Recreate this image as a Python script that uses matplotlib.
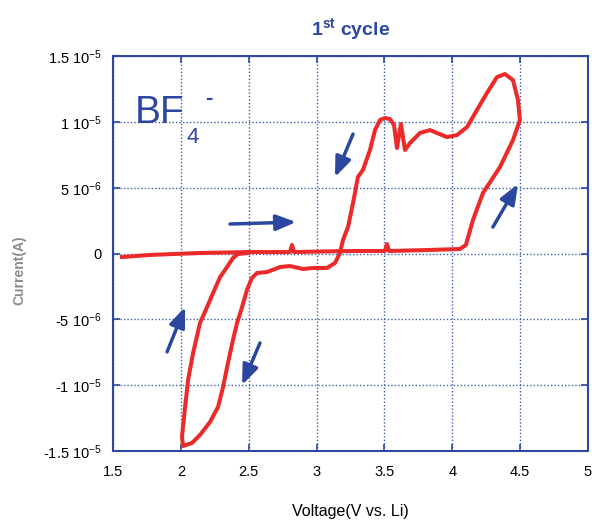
import matplotlib
matplotlib.use("Agg")
import matplotlib.pyplot as plt
import numpy as np

# ── Data ──────────────────────────────────────────────────────────────────────
# voltage in V, current in units of 1e-6 A
voltage = [1.566, 1.773, 2.141, 2.510, 2.804, 2.819, 2.834, 3.246, 3.504, 3.519,
           3.534, 3.836, 4.057, 4.101, 4.153, 4.227, 4.352, 4.448, 4.499, 4.485,
           4.448, 4.389, 4.330, 4.256, 4.182, 4.109, 4.035, 3.961, 3.888, 3.836,
           3.762, 3.689, 3.652, 3.622, 3.593, 3.571, 3.541, 3.504, 3.467, 3.431,
           3.394, 3.342, 3.305, 3.269, 3.232, 3.195, 3.173, 3.136, 3.077, 2.974,
           2.900, 2.804, 2.731, 2.635, 2.561, 2.524, 2.487, 2.451, 2.414, 2.384,
           2.347, 2.311, 2.274, 2.215, 2.141, 2.082, 2.016, 2.008, 2.031, 2.053,
           2.090, 2.141, 2.193, 2.237, 2.289, 2.340, 2.384, 2.421, 2.487]
current = [-0.27, -0.11, 0.04, 0.11, 0.11, 0.65, 0.11, 0.19, 0.19, 0.72,
           0.19, 0.27, 0.34, 0.65, 2.55, 4.60, 6.57, 8.62, 10.14, 11.66,
           13.18, 13.64, 13.41, 12.20, 10.90, 9.61, 9.00, 8.85, 9.16, 9.38,
           9.16, 8.40, 7.87, 9.84, 8.02, 9.76, 10.22, 10.30, 10.14, 9.38,
           7.87, 6.35, 5.81, 3.84, 2.01, 1.03, 0.04, -0.72, -1.10, -1.10,
           -1.18, -0.95, -1.03, -1.41, -1.48, -1.86, -2.77, -4.07, -5.28, -6.57,
           -8.32, -10.14, -11.66, -12.80, -13.79, -14.40, -14.63, -13.94, -11.66, -9.61,
           -7.56, -5.28, -4.07, -3.00, -1.79, -1.03, -0.34, -0.04, 0.04]

# scan-direction arrows: (tail V, tail I, head V, head I), I in 1e-6 A
arrow_tail_v = [2.362, 4.300, 3.269, 2.583, 1.898]
arrow_tail_i = [2.24, 2.01, 9.08, -6.80, -7.48]
arrow_head_v = [2.849, 4.485, 3.136, 2.451, 2.031]
arrow_head_i = [2.39, 5.28, 5.81, -9.99, -4.07]

x_ticks = [1.5, 2, 2.5, 3, 3.5, 4, 4.5, 5]
x_labels = ["1.5", "2", "2.5", "3", "3.5", "4", "4.5", "5"]
y_ticks = [15e-6, 10e-6, 5e-6, 0, -5e-6, -10e-6, -15e-6]
y_labels = ["1.5 10$^{-5}$", "1 10$^{-5}$", "5 10$^{-6}$", "0",
            "-5 10$^{-6}$", "-1 10$^{-5}$", "-1.5 10$^{-5}$"]

# ── Style ─────────────────────────────────────────────────────────────────────
plt.rcParams["font.family"] = ["Liberation Sans", "DejaVu Sans"]
plt.rcParams["mathtext.fontset"] = "custom"
plt.rcParams["mathtext.rm"] = "Liberation Sans"
plt.rcParams["mathtext.it"] = "Liberation Sans:italic"
plt.rcParams["mathtext.bf"] = "Liberation Sans:bold"

BLUE = "#2b47a0"
GRID = "#3f5db0"
RED = "#ec2a2a"

fig = plt.figure(figsize=(5.92, 5.2), dpi=100)
ax = fig.add_axes([0.191, 0.133, 0.802, 0.759])

ax.plot(voltage, np.array(current) * 1e-6, color=RED, lw=2.9,
        solid_joinstyle="round", zorder=3)

for tv, ti, hv, hi in zip(arrow_tail_v, arrow_tail_i, arrow_head_v, arrow_head_i):
    ax.annotate("", xy=(hv, hi * 1e-6), xytext=(tv, ti * 1e-6),
                arrowprops=dict(arrowstyle="-|>,head_length=0.6,head_width=0.24",
                                color=BLUE, lw=2.5,
                                mutation_scale=20, shrinkA=0, shrinkB=0),
                zorder=4)

ax.set_xlim(1.5, 5)
ax.set_ylim(-15e-6, 15e-6)
ax.set_xticks(x_ticks)
ax.set_xticklabels(x_labels)
ax.set_yticks(y_ticks)
ax.set_yticklabels(y_labels)
ax.tick_params(direction="in", length=5, width=1.2, color=BLUE,
               labelsize=10.5, top=True, right=True, pad=8)
ax.tick_params(axis="x", pad=10)
for s in ax.spines.values():
    s.set_color(BLUE)
    s.set_linewidth(1.5)
ax.grid(True, color=GRID, linestyle=(0, (1, 1.5)), lw=1.0)
ax.set_axisbelow(True)

ax.set_xlabel("Voltage(V vs. Li)", fontsize=11.5, labelpad=18)
fig.text(0.032, 0.48, "Current(A)", rotation=90, ha="center", va="center",
         fontsize=10, color="#6e6e6e", fontweight="bold", alpha=0.8)

ax.set_title("1$^{\\mathbf{st}}$ cycle", color=BLUE, fontsize=14,
             fontweight="bold", pad=15)

# ion label
ax.text(1.662, 9.92e-6, "BF", color=BLUE, fontsize=28, ha="left", va="baseline")
ax.text(2.038, 8.40e-6, "4", color=BLUE, fontsize=16, ha="left", va="baseline")
ax.text(2.175, 11.4e-6, "-", color=BLUE, fontsize=16, fontweight="bold",
        ha="left", va="baseline")

fig.savefig("out.png", dpi=100)
